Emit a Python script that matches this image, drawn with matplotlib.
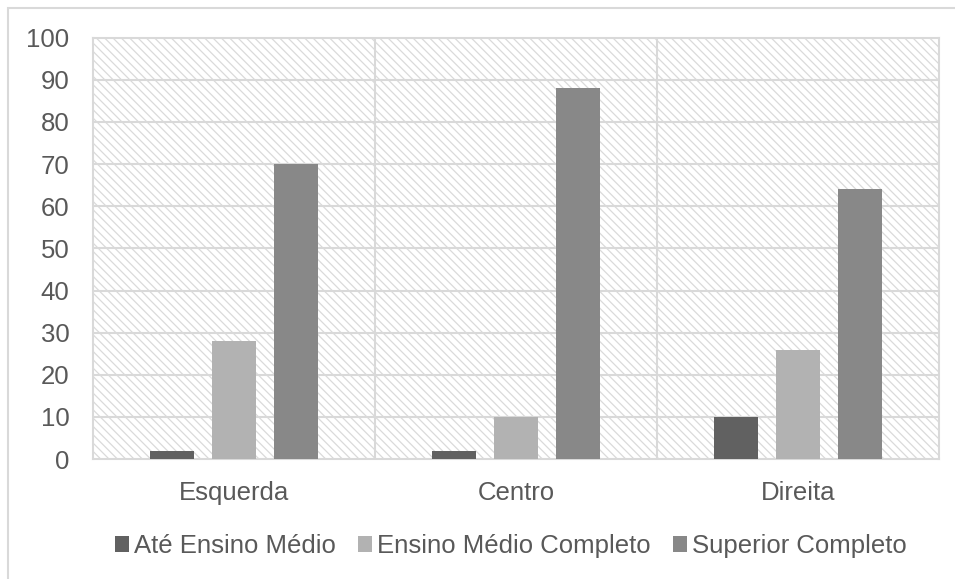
import matplotlib.pyplot as plt
from matplotlib.patches import Rectangle
import numpy as np

plt.rcParams['font.family'] = ['Liberation Sans', 'DejaVu Sans']

# categorias e valores (%)
categorias = ["Esquerda", "Centro", "Direita"]
series = ["Até Ensino Médio", "Ensino Médio Completo", "Superior Completo"]
ate_medio = [2, 2, 10]
medio_completo = [28, 10, 26]
superior = [70, 88, 64]
cores = ["#616161", "#b2b2b2", "#888888"]
yticks = [0, 10, 20, 30, 40, 50, 60, 70, 80, 90, 100]

grid_cor = "#d9d9d9"
texto_cor = "#595959"
fonte = 18.5

fig = plt.figure(figsize=(9.55, 5.79), dpi=100)
ax = fig.add_axes([0.0974, 0.207, 0.8858, 0.728])

# borda externa do grafico
fig.patches.append(Rectangle((8 / 955, -0.05), 1.2, 1 - 7.5 / 579 + 0.05,
                             transform=fig.transFigure, fill=False,
                             edgecolor=grid_cor, linewidth=1.5, zorder=0))

# fundo com hachura diagonal
plt.rcParams['hatch.linewidth'] = 0.9
ax.add_patch(Rectangle((0, 0), 1, 1, transform=ax.transAxes, facecolor="white",
                       edgecolor="#dadada", linewidth=0, hatch="\\\\\\\\", zorder=0))

x = np.arange(len(categorias))
largura = 0.153
desloc = 0.22
for i, (vals, nome) in enumerate(zip([ate_medio, medio_completo, superior], series)):
    ax.bar(x + (i - 1) * desloc, vals, width=largura, color=cores[i], label=nome, zorder=3)

ax.set_xlim(-0.5, 2.5)
ax.set_ylim(0, 100)
ax.set_yticks(yticks)
for y in yticks[1:-1]:
    ax.axhline(y, color=grid_cor, linewidth=1.5, zorder=1)
for xs in [0.5, 1.5]:
    ax.axvline(xs, color=grid_cor, linewidth=1.5, zorder=1)

for s in ax.spines.values():
    s.set_color(grid_cor)
    s.set_linewidth(1.5)

ax.set_xticks(x)
ax.set_xticklabels(categorias)
ax.tick_params(axis="both", length=0, labelsize=fonte, colors=texto_cor)
ax.tick_params(axis="x", pad=16)
ax.tick_params(axis="y", pad=17)

leg = fig.legend(loc="center", bbox_to_anchor=(0.535, 0.057), ncol=3, frameon=False,
                 fontsize=fonte, handlelength=0.55, handleheight=0.55, handletextpad=0.2,
                 columnspacing=0.85)
for t in leg.get_texts():
    t.set_color(texto_cor)

fig.savefig("out.png", dpi=100)
